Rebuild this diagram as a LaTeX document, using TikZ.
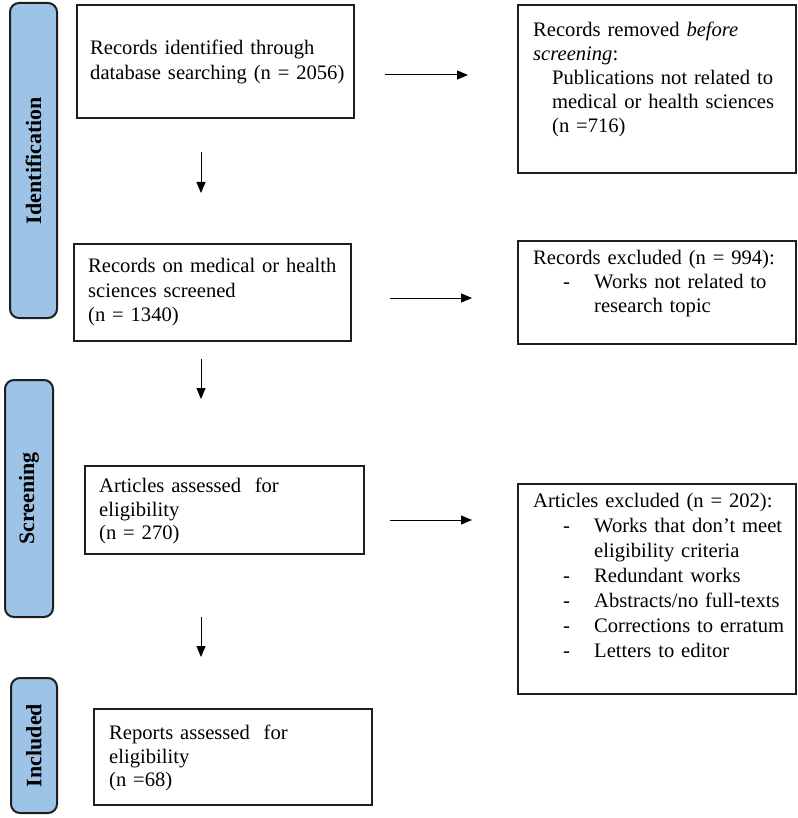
\documentclass[tikz,border=0pt]{standalone}
\usepackage{fontspec}
\setmainfont{Liberation Serif}
\usetikzlibrary{arrows.meta}
\definecolor{barblue}{RGB}{157,195,230}
\definecolor{edge}{RGB}{30,30,30}
\begin{document}
\begin{tikzpicture}[x=1pt,y=-1pt,
  boxnode/.style={draw=edge, line width=2pt, inner sep=0pt, anchor=north west, rectangle},
  sidebar/.style={draw=edge, line width=2pt, fill=barblue, rounded corners=9pt, rotate=90, inner sep=0pt, font=\fontsize{22}{26}\selectfont\bfseries},
  txt/.style={anchor=north west, inner sep=0pt, text width=280pt, align=left, font=\fontsize{20.6}{25}\selectfont, execute at begin node=\strut},
  txtb/.style={txt, font=\fontsize{20.6}{24}\selectfont},
  txtc/.style={txt, font=\fontsize{20.6}{23.5}\selectfont},
  flow/.style={line width=1pt, -{Triangle[length=11pt,width=9pt]}}
]
\useasboundingbox (0,0) rectangle (797,818);

% side bars
\node[sidebar, minimum width=315pt, minimum height=47pt] (s1) at (33.5,160.5) {Identification};
\node[sidebar, minimum width=237pt, minimum height=48pt] (s2) at (29,498.5) {Screening};
\node[sidebar, minimum width=135pt, minimum height=46pt] (s3) at (34,745.5) {Included};

% left boxes
\node[boxnode, minimum width=277pt, minimum height=113pt] (b1) at (76,4) {};
\node[boxnode, minimum width=277pt, minimum height=97pt] (b2) at (73,243) {};
\node[boxnode, minimum width=279pt, minimum height=88pt] (b3) at (84,465) {};
\node[boxnode, minimum width=278pt, minimum height=96pt] (b4) at (93,708) {};

% right boxes
\node[boxnode, minimum width=278pt, minimum height=168pt] (r1) at (517,4) {};
\node[boxnode, minimum width=278pt, minimum height=103pt] (r2) at (517,240) {};
\node[boxnode, minimum width=278pt, minimum height=210pt] (r3) at (517,483) {};

% texts
\node[txt] (t1) at (90,37.2) {Records identified through\\database searching (n = 2056)};
\node[txt, font=\fontsize{20.6}{24.5}\selectfont] (t2) at (88,255.5) {Records on medical or health\\sciences screened\\(n = 1340)};
\node[txtc] (t3) at (99,476.2) {Articles assessed~ for\\eligibility\\(n = 270)};
\node[txtc] (t4) at (109,723.2) {Reports assessed~ for\\eligibility\\(n =68)};

\node[txtb] (u1) at (533,19.9) {Records removed \emph{before}\\\emph{screening}:\\\hspace*{19pt}Publications not related to\\\hspace*{19pt}medical or health sciences\\\hspace*{19pt}(n =716)};
\node[txtb] (u2) at (533,247.9) {Records excluded (n = 994):\\\hspace*{30pt}\makebox[31pt][l]{-}Works not related to\\\hspace*{61pt}research topic};
\node[txt] (u3) at (533,490.2) {Articles excluded (n = 202):\\
\hspace*{30pt}\makebox[31pt][l]{-}Works that don’t meet\\
\hspace*{61pt}eligibility criteria\\
\hspace*{30pt}\makebox[31pt][l]{-}Redundant works\\
\hspace*{30pt}\makebox[31pt][l]{-}Abstracts/no full-texts\\
\hspace*{30pt}\makebox[31pt][l]{-}Corrections to erratum\\
\hspace*{30pt}\makebox[31pt][l]{-}Letters to editor};

% arrow end points
\coordinate (h1s) at (385,75);  \coordinate (h1e) at (468,75);
\coordinate (h2s) at (390,298); \coordinate (h2e) at (472,298);
\coordinate (h3s) at (390,520); \coordinate (h3e) at (472,520);
\coordinate (v1s) at (201,152); \coordinate (v1e) at (201,193);
\coordinate (v2s) at (201,359); \coordinate (v2e) at (201,399);
\coordinate (v3s) at (201,617); \coordinate (v3e) at (201,657);

\draw[flow] (h1s) -- (h1e);
\draw[flow] (h2s) -- (h2e);
\draw[flow] (h3s) -- (h3e);
\draw[flow] (v1s) -- (v1e);
\draw[flow] (v2s) -- (v2e);
\draw[flow] (v3s) -- (v3e);
\end{tikzpicture}
\end{document}
